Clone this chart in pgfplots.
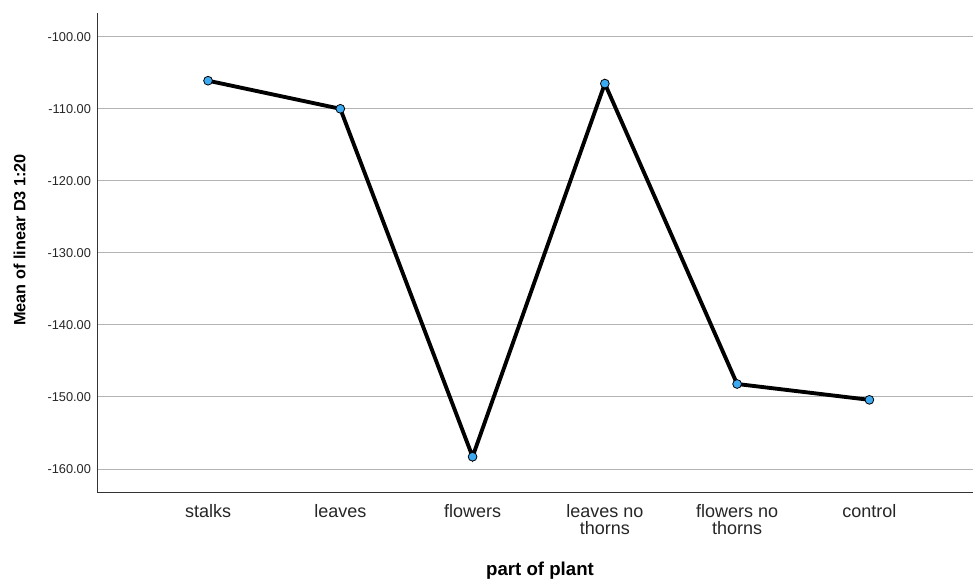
\documentclass[border=0pt]{standalone}
\usepackage{pgfplots}
\pgfplotsset{compat=1.18}
\usepackage{fontspec}
\setmainfont{Liberation Sans}
\definecolor{ptblue}{HTML}{3DA9F0}
\definecolor{gridgray}{HTML}{B4B4B4}
\begin{document}
\begin{tikzpicture}
\begin{axis}[
  scale only axis,
  width=657pt, height=360pt,
  xmin=-0.84, xmax=5.78,
  ymin=-163.3, ymax=-96.7,
  axis x line*=bottom, axis y line*=left,
  axis line style={draw=black!80, line width=0.6pt, -},
  major tick length=0pt,
  xtick={0,1,2,3,4,5},
  xticklabels={stalks,leaves,flowers,{leaves no\\thorns},{flowers no\\thorns},control},
  xticklabel style={align=center, font=\fontsize{13.5}{12.8}\selectfont, text=black!85, yshift=-5pt},
  ytick={-160,-150,-140,-130,-120,-110,-100},
  yticklabel style={font=\fontsize{9.6}{11}\selectfont, text=black!85, xshift=-1pt},
  /pgf/number format/assume math mode=true,
  /pgf/number format/.cd, fixed, fixed zerofill, precision=2, /pgfplots/.cd,
  ymajorgrids,
  grid style={draw=gridgray, line width=0.7pt},
  xlabel={\textbf{part of plant}},
  ylabel={\textbf{Mean of linear D3 1:20}},
  xlabel style={font=\fontsize{14}{15}\selectfont, at={(axis description cs:0.506,0)}, anchor=center, yshift=-58.5pt},
  ylabel style={font=\fontsize{12.2}{13}\selectfont, at={(axis description cs:-0.0885,0.527)}, anchor=center, rotate=0},
  clip=false,
]
\addplot[black, line width=2.9pt, mark=*, mark size=3.3pt, mark options={fill=ptblue, draw=black, line width=0.6pt}]
  coordinates {(0,-106.1) (1,-110.0) (2,-158.3) (3,-106.5) (4,-148.2) (5,-150.4)};
\end{axis}
\useasboundingbox ([shift={(-72.75pt,-63.75pt)}]current axis.south west) rectangle ([shift={(0pt,9.75pt)}]current axis.north east);
\end{tikzpicture}
\end{document}
